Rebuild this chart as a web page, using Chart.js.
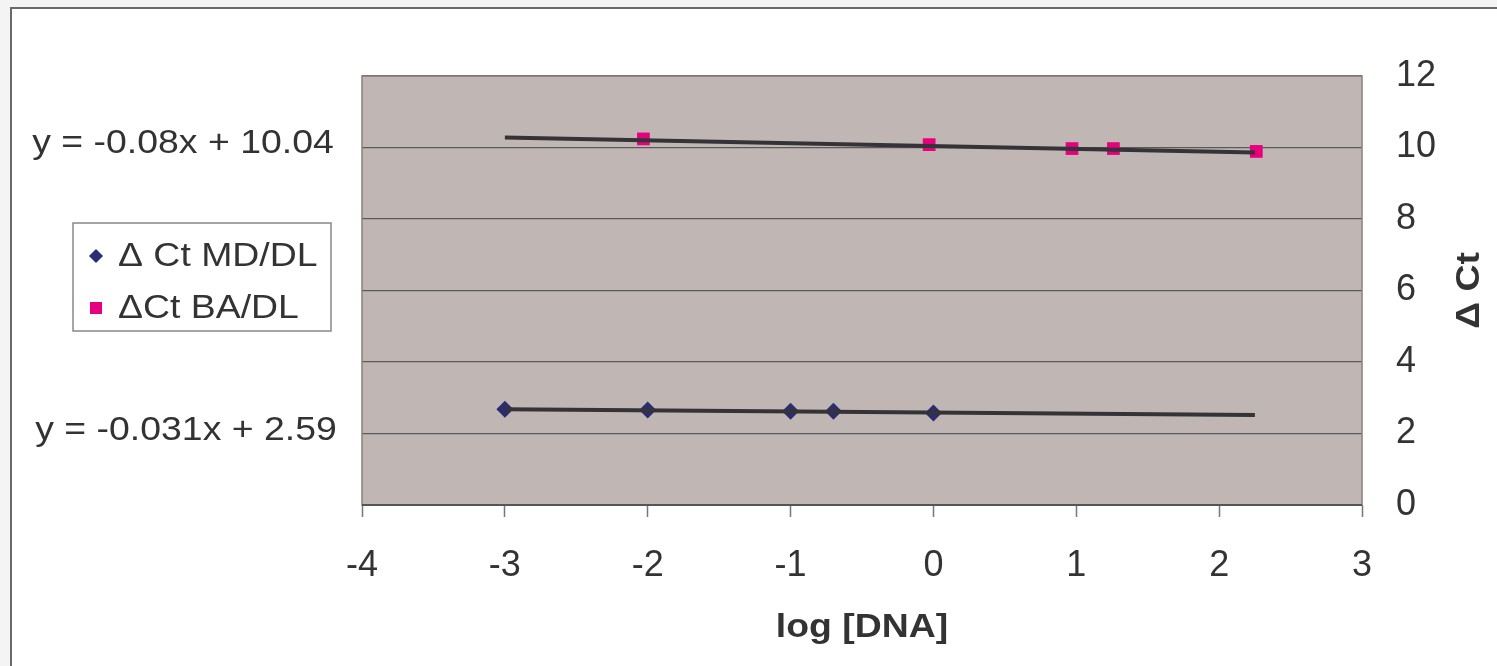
<!DOCTYPE html>
<html><head><meta charset="utf-8">
<script src="https://cdn.jsdelivr.net/npm/chart.js@4/dist/chart.umd.min.js"></script>
<style>html,body{margin:0;padding:0;background:#f4f4f4;overflow:hidden}canvas{display:block}</style>
</head><body><canvas id="c" width="1497" height="666"></canvas>
<script>
// ---- data ----
const mdX = [-3, -2, -1, -0.7, 0];
const mdY = [2.68, 2.66, 2.62, 2.62, 2.57];
const baX = [-2.03, -0.03, 0.97, 1.26, 2.26];
const baY = [10.24, 10.08, 9.97, 9.97, 9.89];
const mdTrendX = [-3, 2.25];
const mdTrendY = [2.68, 2.52];
const baTrendX = [-3, 2.25];
const baTrendY = [10.28, 9.86];
const seriesLabels = ['\u0394 Ct MD/DL', '\u0394Ct BA/DL'];
const equations = ['y = -0.08x + 10.04', 'y = -0.031x + 2.59'];
const xTicks = [-4, -3, -2, -1, 0, 1, 2, 3];
const yTicks = [0, 2, 4, 6, 8, 10, 12];
const xTitle = 'log [DNA]';
const yTitle = '\u0394 Ct';

const FONT = "'Liberation Sans', Arial, sans-serif";
const SX = 1.1; // horizontal stretch of the reference lettering
const pts = (xs, ys) => xs.map((x, i) => ({x: x, y: ys[i]}));

function stretchedText(ctx, text, x, y, align) {
  ctx.save();
  ctx.translate(x, y);
  ctx.scale(SX, 1);
  ctx.textAlign = align;
  ctx.fillText(text, 0, 0);
  ctx.restore();
}

const framePlugin = {
  id: 'frame',
  beforeDraw(chart) {
    const ctx = chart.ctx, a = chart.chartArea;
    ctx.save();
    ctx.fillStyle = '#f4f4f4';
    ctx.fillRect(0, 0, chart.width, chart.height);
    ctx.fillStyle = '#ffffff';
    ctx.fillRect(11, 8, chart.width, chart.height);
    ctx.strokeStyle = '#6a6a6a';
    ctx.lineWidth = 2;
    ctx.beginPath();
    ctx.moveTo(11, chart.height + 5); ctx.lineTo(11, 8); ctx.lineTo(chart.width + 5, 8);
    ctx.stroke();
    ctx.fillStyle = '#c0b7b4';
    ctx.fillRect(a.left, a.top, a.right - a.left, a.bottom - a.top);
    ctx.restore();
  },
  afterDatasetsDraw(chart) {
    const ctx = chart.ctx, a = chart.chartArea;
    ctx.save();
    ctx.strokeStyle = '#8a7f7b';
    ctx.lineWidth = 1.5;
    ctx.strokeRect(a.left, a.top, a.right - a.left, a.bottom - a.top);
    ctx.strokeStyle = '#555';
    ctx.lineWidth = 2;
    ctx.beginPath(); ctx.moveTo(a.left, a.bottom); ctx.lineTo(a.right, a.bottom); ctx.stroke();
    ctx.restore();
  },
  afterDraw(chart) {
    const ctx = chart.ctx, a = chart.chartArea;
    ctx.save();
    ctx.fillStyle = '#333';
    ctx.font = '34px ' + FONT;
    ctx.textBaseline = 'middle';
    // equations
    stretchedText(ctx, equations[0], 183, 144, 'center');
    stretchedText(ctx, equations[1], 186, 431, 'center');
    // legend
    ctx.strokeStyle = '#888';
    ctx.lineWidth = 1.5;
    ctx.strokeRect(73, 223, 258, 108);
    const ds = chart.data.datasets;
    ctx.fillStyle = ds[2].backgroundColor;
    ctx.beginPath();
    ctx.moveTo(96, 249); ctx.lineTo(103, 256); ctx.lineTo(96, 263); ctx.lineTo(89, 256); ctx.closePath();
    ctx.fill();
    ctx.fillStyle = ds[3].backgroundColor;
    ctx.fillRect(90, 302, 12, 12);
    ctx.fillStyle = '#333';
    stretchedText(ctx, ds[2].label, 118, 257, 'left');
    stretchedText(ctx, ds[3].label, 118, 309, 'left');
    // x title
    ctx.font = 'bold 34px ' + FONT;
    stretchedText(ctx, xTitle, (a.left + a.right) / 2, 628, 'center');
    // y title
    ctx.translate(1470, (a.top + a.bottom) / 2);
    ctx.rotate(-Math.PI / 2);
    stretchedText(ctx, yTitle, 0, 0, 'center');
    ctx.restore();
  }
};

new Chart(document.getElementById('c'), {
  type: 'scatter',
  data: {
    datasets: [
      {type: 'line', label: 'trend BA', data: pts(baTrendX, baTrendY), borderColor: '#333338', borderWidth: 4, pointRadius: 0, fill: false, order: 0},
      {type: 'line', label: 'trend MD', data: pts(mdTrendX, mdTrendY), borderColor: '#333338', borderWidth: 4, pointRadius: 0, fill: false, order: 0},
      {label: seriesLabels[0], data: pts(mdX, mdY), pointStyle: 'rectRot', pointRadius: 8.5, backgroundColor: '#2b2d6e', borderColor: '#2b2d6e', borderWidth: 0, order: 1},
      {label: seriesLabels[1], data: pts(baX, baY), pointStyle: 'rect', pointRadius: 9, backgroundColor: '#e6007e', borderColor: '#e6007e', borderWidth: 0, order: 1}
    ]
  },
  options: {
    responsive: false,
    animation: false,
    devicePixelRatio: 1,
    layout: {padding: {left: 362, top: 76, right: 0, bottom: 0}},
    plugins: {legend: {display: false}, tooltip: {enabled: false}},
    scales: {
      x: {
        type: 'linear', min: -4, max: 3,
        afterFit(s) { s.height = 161; },
        afterBuildTicks(s) { s.ticks = xTicks.map(v => ({value: v})); },
        ticks: {font: {family: FONT, size: 36}, color: '#333', padding: 27},
        grid: {drawOnChartArea: false, drawTicks: true, tickLength: 12, tickColor: '#777', tickWidth: 1.5},
        border: {display: false}
      },
      y: {
        position: 'right', min: 0, max: 12,
        afterFit(s) { s.width = 135; },
        afterBuildTicks(s) { s.ticks = yTicks.map(v => ({value: v})); },
        ticks: {font: {family: FONT, size: 36}, color: '#333', padding: 34},
        grid: {color: '#5e5959', lineWidth: 1.2, drawTicks: false},
        border: {display: false}
      }
    }
  },
  plugins: [framePlugin]
});
</script>
</body></html>
